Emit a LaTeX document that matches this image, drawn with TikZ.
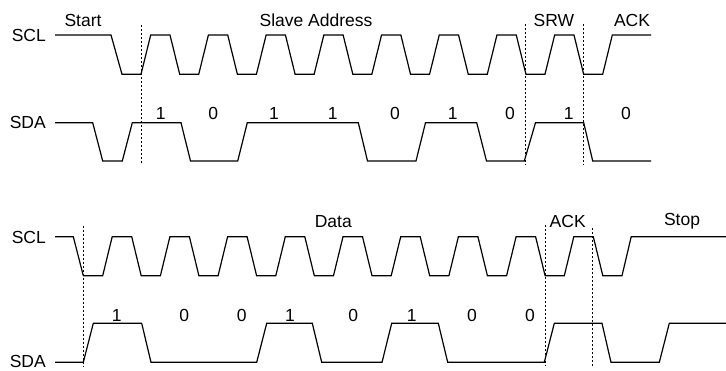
\documentclass[tikz,border=0pt]{standalone}
\usepackage{fontspec}
\setmainfont{Liberation Sans}
\begin{document}
\begin{tikzpicture}[x=1pt,y=-1pt,
  wave/.style={line width=1.2pt,line join=miter},
  guide/.style={line width=0.9pt,dash pattern=on 2.5pt off 1.5pt},
  lbl/.style={font=\fontsize{17.5}{20}\selectfont,inner sep=0pt},
  sig/.style={lbl,anchor=east}]
\useasboundingbox (0,0) rectangle (726,371);
% ---------------- top diagram ----------------
\def\sh{35}\def\sl{74.3}
\draw[wave] (55,\sh) -- (111,\sh) -- (122,\sl) -- (141,\sl)
  \foreach \k in {0,...,7} {
    -- ({141+57.71*\k+9.7},\sh) -- ({141+57.71*\k+29},\sh)
    -- ({141+57.71*\k+38.7},\sl) -- ({141+57.71*(\k+1)},\sl) }
  -- (612.3,\sh) -- (651,\sh);
\def\dh{122.7}\def\dl{161}
\draw[wave] (55,\dh) -- (92.7,\dh) -- (102.7,\dl) -- (122.3,\dl) -- (132.3,\dh)
  -- (181,\dh) -- (190.5,\dl) -- (237.7,\dl) -- (247.3,\dh) -- (358.3,\dh)
  -- (367.5,\dl) -- (416,\dl) -- (425.5,\dh) -- (476.7,\dh) -- (486.5,\dl)
  -- (524.3,\dl) -- (535.5,\dh) -- (583.7,\dh) -- (592.7,\dl) -- (651,\dl);
\draw[guide] (141.7,25) -- (141.7,165);
\draw[guide] (525.3,24) -- (525.3,165);
\draw[guide] (583.3,24) -- (583.3,165);
\node[sig] (scl1) at (46,35.5) {SCL};
\node[sig] (sda1) at (46,122.7) {SDA};
\node[lbl] (start) at (83,20.7) {Start};
\node[lbl] (slave) at (316,20.7) {Slave Address};
\node[lbl] (srw) at (554,20.7) {SRW};
\node[lbl] (ack1) at (632,20.7) {ACK};
\foreach \x/\b [count=\i] in {160.7/1,213.3/0,274/1,332.7/1,395/0,452.7/1,510/0,568.7/1,626/0}
  \node[lbl] (tb\i) at (\x,113) {\b};
% ---------------- bottom diagram ----------------
\def\bh{236.7}\def\bl{275.7}
\draw[wave] (55,\bh) -- (73.3,\bh) -- (83.3,\bl) -- (102.7,\bl)
  \foreach \k in {0,...,8} {
    -- ({102.7+57.7*\k+9.5},\bh) -- ({102.7+57.7*\k+29},\bh)
    -- ({102.7+57.7*\k+38.5},\bl) -- ({102.7+57.7*(\k+1)},\bl) }
  -- (631.2,\bh) -- (726,\bh);
\def\eh{323.3}\def\el{362.3}
\draw[wave] (55,\el) -- (83.3,\el) -- (93.3,\eh) -- (141.7,\eh) -- (151,\el)
  -- (256.7,\el) -- (266.7,\eh) -- (312.3,\eh) -- (321.7,\el) -- (382,\el)
  -- (391.7,\eh) -- (438.3,\eh) -- (447.7,\el) -- (544.3,\el) -- (554.3,\eh)
  -- (602,\eh) -- (611,\el) -- (659.3,\el) -- (669.3,\eh) -- (726,\eh);
\draw[guide] (83.3,226) -- (83.3,366.7);
\draw[guide] (545,225) -- (545,365.7);
\draw[guide] (592.7,228) -- (592.7,368);
\node[sig] (scl2) at (46,237.5) {SCL};
\node[sig] (sda2) at (46,361) {SDA};
\node[lbl] (data) at (333.3,221.5) {Data};
\node[lbl] (ack2) at (567.7,221) {ACK};
\node[lbl] (stop) at (682,221) {Stop};
\foreach \x/\b [count=\i] in {116.7/1,184.3/0,241.7/0,290/1,353.3/0,411.7/1,472/0,530/0}
  \node[lbl] (bb\i) at (\x,315) {\b};
\end{tikzpicture}
\end{document}
